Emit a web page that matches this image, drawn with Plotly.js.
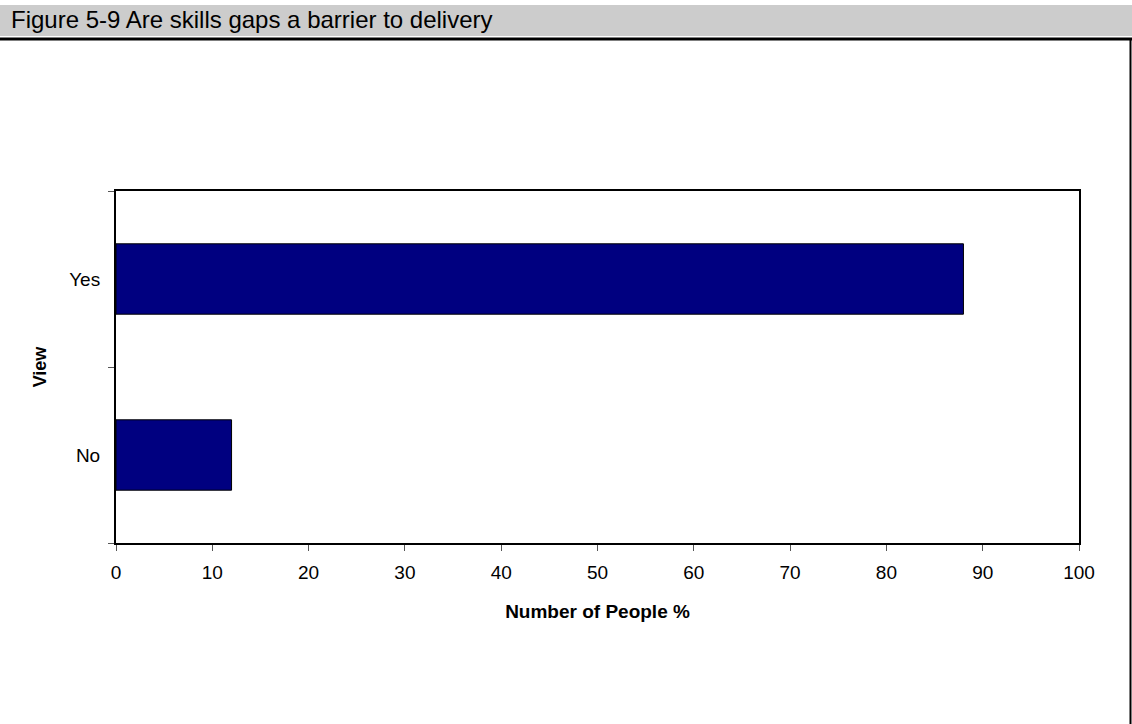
<!DOCTYPE html>
<html>
<head>
<meta charset="utf-8">
<script src="https://cdn.plot.ly/plotly-3.0.1.min.js"></script>
<style>
html,body{margin:0;padding:0;background:#fff;}
#chart{width:1132px;height:724px;}
</style>
</head>
<body>
<div id="chart"></div>
<script>
var categories = ['No', 'Yes'];
var values = [12, 88];
var xTicks = [0, 10, 20, 30, 40, 50, 60, 70, 80, 90, 100];

var W = 1132, H = 724;
var L = 116, R = 1079, T = 191, B = 543;
function px2x(p){ return (p - L) / (R - L); }
function py2y(p){ return (B - p) / (B - T); }

var FONT = 'Liberation Sans, Arial, sans-serif';

var trace = {
  type: 'bar',
  orientation: 'h',
  y: categories,
  x: values,
  marker: {color: '#000080', line: {color: '#000000', width: 1}},
  hoverinfo: 'x+y'
};

var layout = {
  width: W, height: H,
  margin: {l: L, r: W - R, t: T, b: H - B, pad: 0},
  paper_bgcolor: '#ffffff',
  plot_bgcolor: '#ffffff',
  showlegend: false,
  bargap: 0.6,
  font: {family: FONT, size: 19, color: '#000000'},
  title: {
    text: 'Figure 5-9 Are skills gaps a barrier to delivery',
    font: {family: FONT, size: 24, color: '#000000'},
    xref: 'container', yref: 'container',
    x: 11 / W, xanchor: 'left',
    y: 1 - 20 / H, yanchor: 'middle'
  },
  xaxis: {
    range: [0, 100],
    tickvals: xTicks,
    ticktext: xTicks.map(String),
    showgrid: false,
    zeroline: false,
    showline: true, linecolor: '#000000', linewidth: 2, mirror: true,
    ticks: 'outside', ticklen: 6, tickcolor: '#555555', tickwidth: 1,
    ticklabelstandoff: 5,
    tickfont: {family: FONT, size: 19, color: '#000000'},
    title: {text: '<b>Number of People %</b>', font: {family: FONT, size: 19, color: '#000000'}, standoff: 23},
    fixedrange: true
  },
  yaxis: {
    type: 'category',
    categoryorder: 'array',
    categoryarray: categories,
    showgrid: false,
    zeroline: false,
    showline: true, linecolor: '#000000', linewidth: 2, mirror: true,
    ticks: 'outside', ticklen: 6, tickcolor: '#555555', tickwidth: 1,
    tickson: 'boundaries',
    ticklabelstandoff: 10,
    tickfont: {family: FONT, size: 19, color: '#000000'},
    title: {text: '<b>View</b>', font: {family: FONT, size: 18, color: '#000000'}, standoff: 18},
    fixedrange: true
  },
  shapes: [
    {type: 'rect', xref: 'paper', yref: 'paper',
     x0: px2x(0), x1: px2x(W), y0: py2y(36), y1: py2y(5),
     fillcolor: '#cccccc', line: {width: 0}, layer: 'below'},
    {type: 'line', xref: 'paper', yref: 'paper',
     x0: px2x(0), x1: px2x(W), y0: py2y(39), y1: py2y(39),
     line: {color: '#000000', width: 3}},
    {type: 'line', xref: 'paper', yref: 'paper',
     x0: px2x(1130.5), x1: px2x(1130.5), y0: py2y(39), y1: py2y(H),
     line: {color: '#000000', width: 2}}
  ]
};

Plotly.newPlot('chart', [trace], layout, {displayModeBar: false, staticPlot: true});
</script>
</body>
</html>
